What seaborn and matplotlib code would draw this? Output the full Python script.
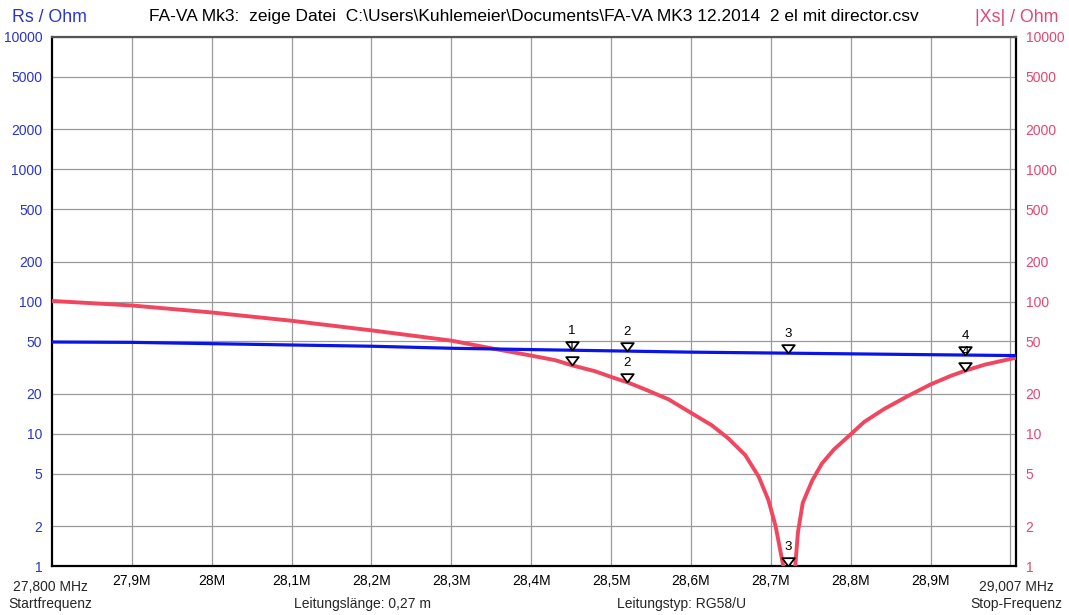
import numpy as np
import matplotlib
matplotlib.use("Agg")
import matplotlib.pyplot as plt
import seaborn as sns
from matplotlib.ticker import FixedLocator, NullLocator

# Rs (blue) - readings from the analyser plot
rs_freq = [27.800, 27.900, 28.000, 28.100, 28.200, 28.300, 28.400, 28.505,
           28.600, 28.700, 28.800, 28.900, 29.007]
rs_ohm = [49.4, 49.1, 48.0, 46.9, 45.9, 44.3, 43.3, 42.3,
          41.4, 40.8, 40.2, 39.6, 39.0]

# |Xs| (red)
xs_freq = [27.800, 27.900, 28.000, 28.100, 28.200, 28.300, 28.355, 28.400,
           28.430, 28.452, 28.480, 28.500, 28.522, 28.543, 28.572, 28.600,
           28.626, 28.647, 28.668, 28.685, 28.697, 28.706, 28.712, 28.717,
           28.723, 28.730, 28.734, 28.740, 28.752, 28.764, 28.779, 28.800,
           28.817, 28.842, 28.871, 28.900, 28.926, 28.945, 28.968, 29.007]
xs_ohm = [101.0, 93.3, 82.6, 71.5, 60.5, 50.6, 43.7, 39.0,
          36.0, 32.8, 29.7, 26.9, 24.3, 21.6, 18.2, 14.4,
          11.6, 9.2, 6.9, 4.72, 3.15, 2.0, 1.3, 0.9,
          0.2, 0.9, 1.8, 3.0, 4.45, 5.95, 7.6, 9.9,
          12.3, 15.4, 19.2, 23.6, 27.5, 30.2, 33.3, 37.6]

marker_freq = [28.451, 28.520, 28.722, 28.943]
marker_names = ["1", "2", "3", "4"]

y_ticks = [1, 2, 5, 10, 20, 50, 100, 200, 500, 1000, 2000, 5000, 10000]
x_ticks = [27.9, 28.0, 28.1, 28.2, 28.3, 28.4, 28.5, 28.6, 28.7, 28.8, 28.9, 29.0]
x_labels = ["27,9M", "28M", "28,1M", "28,2M", "28,3M", "28,4M", "28,5M",
            "28,6M", "28,7M", "28,8M", "28,9M", ""]

BLUE = "#0a14e6"
BLUE_TXT = "#2a34c8"
RED = "#f0465f"
RED_TXT = "#e2486e"

sns.set_style("white")
plt.rcParams["font.family"] = ["Liberation Sans", "DejaVu Sans"]

W, H = 1069, 615
fig = plt.figure(figsize=(W / 100, H / 100), dpi=100)
ax = fig.add_axes([52 / W, 1 - 566 / H, (1016 - 52) / W, (566 - 37) / H])

ax.set_yscale("log")
ax.set_xlim(27.8, 29.007)
ax.set_ylim(1, 10000)

sns.lineplot(x=xs_freq, y=xs_ohm, ax=ax, color=RED, linewidth=2.8, zorder=3)
sns.lineplot(x=rs_freq, y=rs_ohm, ax=ax, color=BLUE, linewidth=2.3, zorder=4)

# grid
ax.yaxis.set_major_locator(FixedLocator(y_ticks))
ax.yaxis.set_minor_locator(NullLocator())
ax.set_yticklabels([str(v) for v in y_ticks])
ax.set_xticks(x_ticks)
ax.set_xticklabels(x_labels)
ax.grid(True, color="#9a9a9a", linewidth=0.9)
ax.tick_params(axis="both", length=0)
ax.tick_params(axis="x", pad=6, labelsize=10, colors="black")
ax.tick_params(axis="y", pad=7, labelsize=10, colors=BLUE_TXT)

for side in ["left", "bottom", "right"]:
    ax.spines[side].set_color("black")
    ax.spines[side].set_linewidth(1.6)
ax.spines["top"].set_color("#555555")
ax.spines["top"].set_linewidth(1.6)

ax2 = ax.twinx()
ax2.set_yscale("log")
ax2.set_ylim(1, 10000)
ax2.yaxis.set_major_locator(FixedLocator(y_ticks))
ax2.yaxis.set_minor_locator(NullLocator())
ax2.set_yticklabels([str(v) for v in y_ticks])
ax2.tick_params(axis="y", length=0, pad=7, labelsize=10, colors=RED_TXT)
for s in ax2.spines.values():
    s.set_visible(False)

# markers: open triangles with the tip on the curve
tri = [(0, 0), (-0.75, 1), (0.75, 1), (0, 0)]
lf = np.log10(xs_ohm)
lb = np.log10(rs_ohm)
xs_at = np.clip(10 ** np.interp(marker_freq, xs_freq, lf), 1, None)
rs_at = 10 ** np.interp(marker_freq, rs_freq, lb)
for vals in [xs_at, rs_at]:
    ax.plot(marker_freq, vals, linestyle="none", marker=tri, markersize=12,
            markerfacecolor="white", markeredgecolor="black",
            markeredgewidth=1.3, zorder=6, clip_on=False)
    for f, v, name in zip(marker_freq, vals, marker_names):
        ax.annotate(name, (f, v), xytext=(0, 13.5), textcoords="offset points",
                    ha="center", va="center", fontsize=9.5, color="black",
                    zorder=7)

# header texts
fig.text(12 / W, 1 - 17 / H, "Rs / Ohm", color=BLUE_TXT, fontsize=12.8,
         ha="left", va="center")
fig.text(534 / W, 1 - 17 / H,
         "FA-VA Mk3:  zeige Datei  C:\\Users\\Kuhlemeier\\Documents\\FA-VA MK3 12.2014  2 el mit director.csv",
         color="black", fontsize=12.5, ha="center", va="center")
fig.text(1058 / W, 1 - 17 / H, "|Xs| / Ohm", color=RED_TXT, fontsize=12.8,
         ha="right", va="center")

# footer texts
fig.text(50 / W, 1 - 587 / H, "27,800 MHz", fontsize=10, ha="center", va="center")
fig.text(50 / W, 1 - 604 / H, "Startfrequenz", fontsize=10, ha="center", va="center")
fig.text(1016 / W, 1 - 587 / H, "29,007 MHz", fontsize=10, ha="center", va="center")
fig.text(1016 / W, 1 - 604 / H, "Stop-Frequenz", fontsize=10, ha="center", va="center")
fig.text(363 / W, 1 - 604 / H, "Leitungslänge: 0,27 m", fontsize=10, ha="center", va="center")
fig.text(682 / W, 1 - 604 / H, "Leitungstyp: RG58/U", fontsize=10, ha="center", va="center")

fig.savefig("out.png", dpi=100, facecolor="white")
